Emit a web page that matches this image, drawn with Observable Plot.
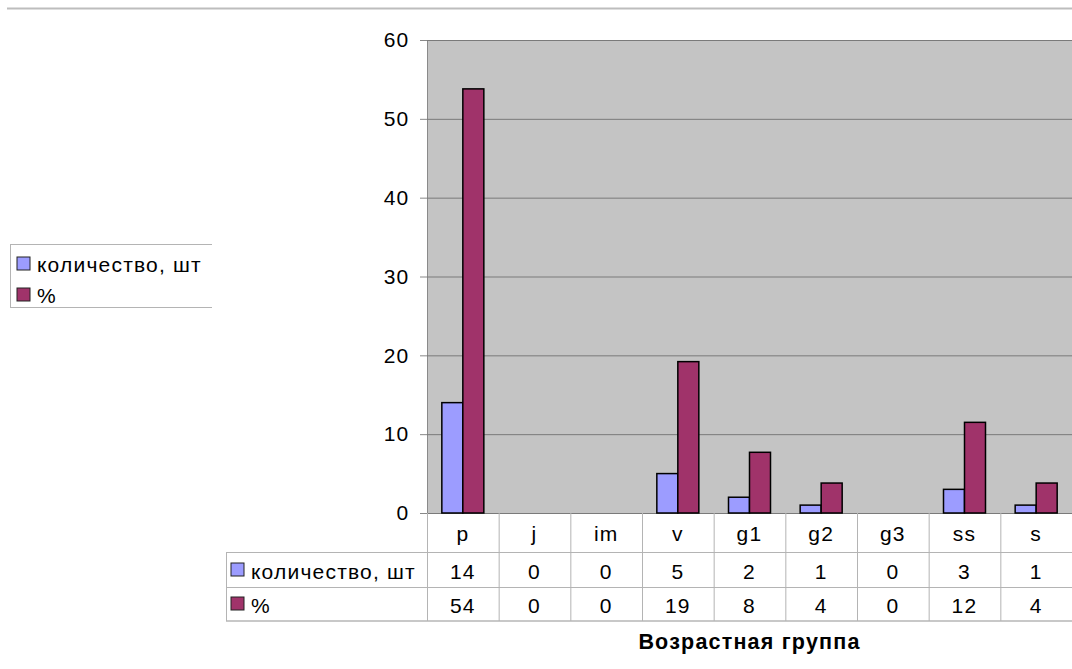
<!DOCTYPE html>
<html><head><meta charset="utf-8">
<script src="https://cdn.jsdelivr.net/npm/d3@7"></script>
<script src="https://cdn.jsdelivr.net/npm/@observablehq/plot@0.6"></script>
<style>
html,body{margin:0;padding:0;background:#fff;}
#chart svg{display:block;}
</style>
</head><body><div id="chart"></div>
<script>
const categories = ["p","j","im","v","g1","g2","g3","ss","s"];
const quantity = [14,0,0,5,2,1,0,3,1];
const percentBars = [53.8,0,0,19.2,7.7,3.8,0,11.5,3.8];
const percentTable = [54,0,0,19,8,4,0,12,4];
const seriesNames = ["количество, шт","%"];
const seriesColors = ["#9c9cff","#a0336a"];
const yTicks = [0,10,20,30,40,50,60];
const xTitle = "Возрастная группа";

const FONT = '"Liberation Sans", Arial, sans-serif';
const FS = 21;
const LS = "1.2px";
const W = 1072, H = 669, ML = 427, MT = 40, MB = 156;
const bandW = (W - ML) / categories.length;
const barW = 21;
const outer = (bandW - 2 * barW) / 2;

const qRows = categories.map((c, i) => ({cat: c, value: quantity[i]})).filter(d => d.value > 0);
const pRows = categories.map((c, i) => ({cat: c, value: percentBars[i]})).filter(d => d.value > 0);

const chart = Plot.plot({
  width: W, height: H,
  marginLeft: ML, marginRight: 0, marginTop: MT, marginBottom: MB,
  style: {fontFamily: FONT, fontSize: FS + "px", letterSpacing: LS, color: "#000", background: "#fff"},
  x: {domain: categories, padding: 0, round: false, axis: null},
  y: {domain: [0, 60], axis: null},
  marks: [
    Plot.frame({fill: "#c4c4c4", stroke: "#8a8a8a"}),
    Plot.gridY(yTicks, {stroke: "#7a7a7a", strokeOpacity: 1, strokeWidth: 1}),
    Plot.axisY(yTicks, {tickSize: 7, tickPadding: 11, stroke: "#888", fill: "#000", fontSize: FS, label: null}),
    Plot.barY(qRows, {x: "cat", y: "value", fill: seriesColors[0], stroke: "#000", strokeWidth: 1.5,
      insetLeft: outer, insetRight: outer + barW}),
    Plot.barY(pRows, {x: "cat", y: "value", fill: seriesColors[1], stroke: "#000", strokeWidth: 1.5,
      insetLeft: outer + barW, insetRight: outer})
  ]
});
document.getElementById("chart").appendChild(chart);

const x = chart.scale("x");
const svg = d3.select(chart);
const g = svg.append("g").attr("font-family", FONT).attr("font-size", FS).attr("letter-spacing", LS)
  .attr("fill", "#000").attr("text-anchor", "start");
const lineC = "#b4b4b4";
function hline(x1, x2, y, c, w) {
  g.append("line").attr("x1", x1).attr("x2", x2).attr("y1", y).attr("y2", y)
   .attr("stroke", c || lineC).attr("stroke-width", w || 1);
}
function vline(xx, y1, y2, c, w) {
  g.append("line").attr("x1", xx).attr("x2", xx).attr("y1", y1).attr("y2", y2)
   .attr("stroke", c || lineC).attr("stroke-width", w || 1);
}
// top separator line
hline(7, W, 8.5, "#bdbdbd", 2);

// table
hline(226, W, 552.5);
hline(226, W, 587.5);
hline(226, W, 621, "#c8c8c8", 2);
vline(226.5, 552, 621);
categories.forEach((c, i) => {
  const x0 = x.apply(c);
  vline(x0 + 0.5, 513, 621);
  const cx = x0 + x.bandwidth / 2;
  g.append("text").attr("x", cx).attr("y", 533).attr("text-anchor", "middle").attr("dominant-baseline", "central").text(c);
  g.append("text").attr("x", cx).attr("y", 571).attr("text-anchor", "middle").attr("dominant-baseline", "central").text(quantity[i]);
  g.append("text").attr("x", cx).attr("y", 605).attr("text-anchor", "middle").attr("dominant-baseline", "central").text(percentTable[i]);
});
// table legend keys
[[563, 571], [597, 605]].forEach(([ry, ty], k) => {
  g.append("rect").attr("x", 231).attr("y", ry).attr("width", 13).attr("height", 13)
    .attr("fill", seriesColors[k]).attr("stroke", "#222").attr("stroke-width", 1);
  g.append("text").attr("x", 251).attr("y", ty).attr("text-anchor", "start").attr("dominant-baseline", "central").text(seriesNames[k]);
});
// axis title
g.append("text").attr("x", ML + (W - ML) / 2).attr("y", 642).attr("text-anchor", "middle")
  .attr("dominant-baseline", "central").attr("font-weight", "bold").attr("font-size", 21.5).text(xTitle);

// left legend
hline(10, 212, 244.5);
hline(10, 212, 307.5);
vline(10.5, 244, 308);
[[257, 264], [288, 295]].forEach(([ry, ty], k) => {
  g.append("rect").attr("x", 17).attr("y", ry).attr("width", 13).attr("height", 13)
    .attr("fill", seriesColors[k]).attr("stroke", "#222").attr("stroke-width", 1);
  g.append("text").attr("x", 37).attr("y", ty).attr("text-anchor", "start").attr("dominant-baseline", "central").text(seriesNames[k]);
});
</script>
</body></html>
